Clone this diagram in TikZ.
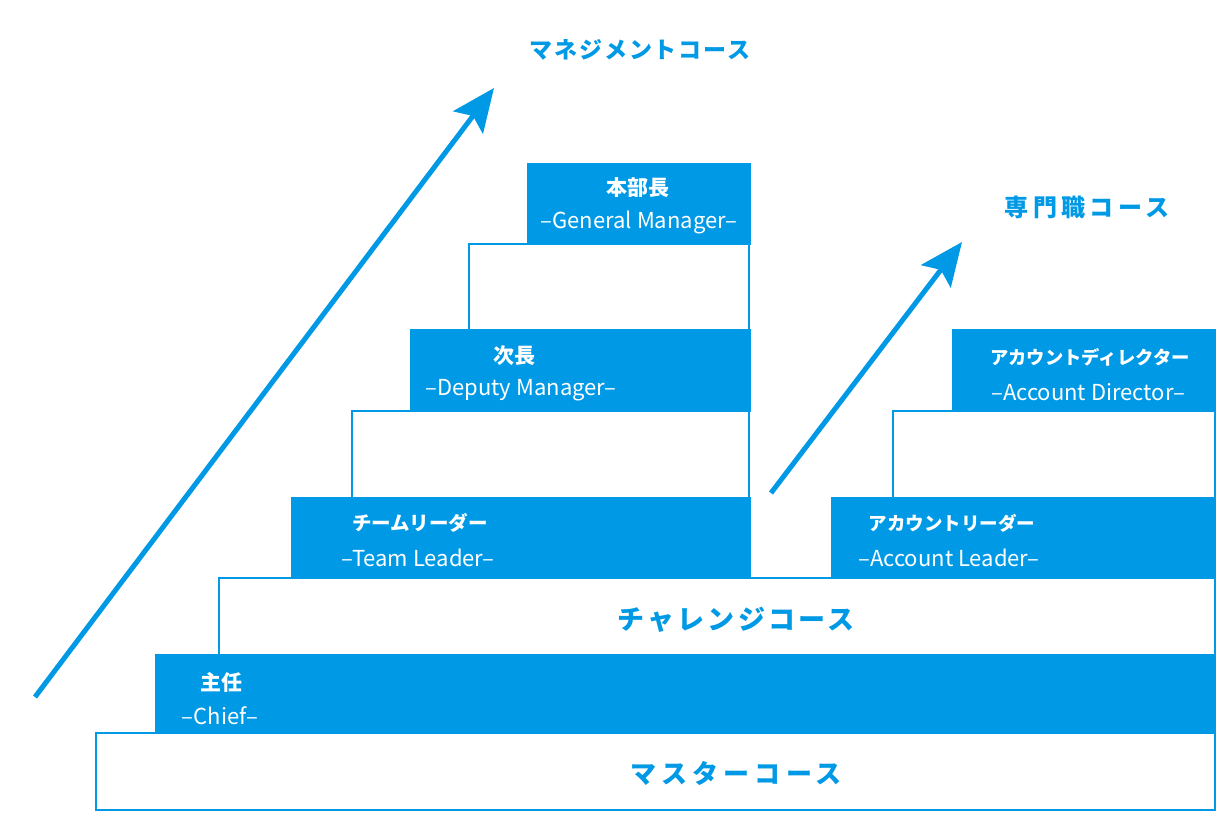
\documentclass[tikz,border=0pt]{standalone}
\usepackage{fontspec}
\setmainfont{Noto Sans CJK JP}
\usetikzlibrary{arrows.meta}
\definecolor{cblue}{RGB}{0,153,230}
\begin{document}
\begin{tikzpicture}[x=1pt,y=-1pt,
  filledbox/.style={fill=cblue,draw=cblue,line width=2pt},
  openbox/.style={fill=white,draw=cblue,line width=2.5pt},
  jp/.style={text=white,font=\fontsize{#1}{#1}\selectfont\bfseries,inner sep=0pt},
  jp/.default=21,
  en/.style={text=white,font=\fontsize{22}{24}\selectfont,inner sep=0pt},
  course/.style 2 args={text=cblue,font=\fontsize{#1}{#1}\selectfont\bfseries\addfontfeature{LetterSpace=#2},inner sep=0pt},
  bigarrow/.style={draw=cblue,line width=5pt,-{Stealth[length=43pt,width=37pt,inset=8pt]}}]
\useasboundingbox (0,0) rectangle (1231,824);
% left stairs
\draw[openbox] (96,733) rectangle (1215,810);
\draw[filledbox] (156,655) rectangle (1215,733);
\draw[openbox] (219,578) rectangle (1215,655);
\draw[filledbox] (292,498) rectangle (750,578);
\draw[openbox] (352,411) rectangle (749,498);
\draw[filledbox] (411,330) rectangle (750,411);
\draw[openbox] (469,244) rectangle (749,330);
\draw[filledbox] (528,164) rectangle (750,244);
% right stairs
\draw[filledbox] (832,498) rectangle (1215,578);
\draw[openbox] (893,411) rectangle (1215,498);
\draw[filledbox] (953,330) rectangle (1215,411);
% labels
\node[course={26}{20}] (master) at (736,773) {マスターコース};
\node[course={27}{12}] (challenge) at (736,620) {チャレンジコース};
\node[jp] (chiefj) at (221,682) {主任};
\node[en] (chiefe) at (220,716) {–Chief–};
\node[jp=19.5] (tlj) at (420,523) {チームリーダー};
\node[en] (tle) at (418,558) {–Team Leader–};
\node[jp] (dmj) at (514,356) {次長};
\node[en] (dme) at (521,390) {–Deputy Manager–};
\node[jp] (gmj) at (638,188) {本部長};
\node[en] (gme) at (639,222) {–General Manager–};
\node[jp=18.5] (alj) at (952,523) {アカウントリーダー};
\node[en] (ale) at (949,558) {–Account Leader–};
\node[jp=18.3] (adj) at (1090,357) {アカウントディレクター};
\node[en] (ade) at (1088,392) {–Account Director–};
\node[course={23}{8}] (mgmt) at (640,50) {マネジメントコース};
\node[course={24}{18}] (spec) at (1087,207) {専門職コース};
% arrows
\coordinate (a1s) at (35,697);
\coordinate (a1e) at (494,88);
\coordinate (a2s) at (771,493);
\coordinate (a2e) at (962,242);
\draw[bigarrow] (a1s) -- (a1e);
\draw[bigarrow] (a2s) -- (a2e);
\end{tikzpicture}
\end{document}
